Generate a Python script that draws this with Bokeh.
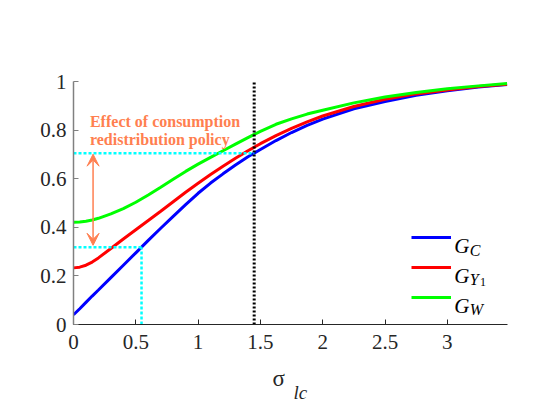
from bokeh.plotting import figure
from bokeh.models import (Range1d, FixedTicker, Label, Arrow, VeeHead, Legend, LegendItem, Title)
from bokeh.embed import file_html
from bokeh.resources import INLINE

# ---- data ----
sigma = [0, 0.05, 0.1, 0.15, 0.2, 0.3, 0.4, 0.5, 0.6, 0.7, 0.8, 0.9, 1.0, 1.1, 1.2, 1.3, 1.4, 1.5,
         1.625, 1.75, 1.875, 2.0, 2.25, 2.5, 2.75, 3.0, 3.25, 3.48]
g_c = [0.040, 0.065, 0.091, 0.117, 0.142, 0.193, 0.244, 0.295, 0.346, 0.396, 0.445, 0.493, 0.540, 0.582,
       0.620, 0.656, 0.690, 0.720, 0.757, 0.790, 0.819, 0.845, 0.888, 0.918, 0.943, 0.962, 0.977, 0.988]
g_y1 = [0.233, 0.236, 0.244, 0.257, 0.274, 0.313, 0.352, 0.390, 0.428, 0.466, 0.505, 0.544, 0.581, 0.617,
        0.651, 0.684, 0.715, 0.744, 0.777, 0.807, 0.834, 0.858, 0.897, 0.927, 0.949, 0.965, 0.979, 0.989]
g_w = [0.421, 0.422, 0.425, 0.430, 0.437, 0.455, 0.477, 0.503, 0.533, 0.565, 0.598, 0.630, 0.660, 0.688,
       0.715, 0.742, 0.769, 0.795, 0.824, 0.846, 0.866, 0.882, 0.912, 0.936, 0.955, 0.970, 0.982, 0.992]

policy_sigma = 1.45      # vertical black dotted line
gini_after = 0.705       # upper cyan line
base_sigma = 0.546       # lower cyan vertical
gini_before = 0.318      # lower cyan line
arrow_sigma = 0.157

x_ticks = [0, 0.5, 1, 1.5, 2, 2.5, 3]
x_tick_labels = ["0", "0.5", "1", "1.5", "2", "2.5", "3"]
y_ticks = [0, 0.2, 0.4, 0.6, 0.8, 1]
y_tick_labels = ["0", "0.2", "0.4", "0.6", "0.8", "1"]

SERIF = "Liberation Serif"
CORAL = "#FF7F50"

p = figure(width=552, height=412, x_range=Range1d(0, 3.483), y_range=Range1d(0, 1),
           output_backend="svg", toolbar_location=None,
           min_border_left=73, min_border_right=45, min_border_top=81, min_border_bottom=88)
p.outline_line_color = None
p.grid.visible = False

for ax, ticks, labels in ((p.xaxis, x_ticks, x_tick_labels), (p.yaxis, y_ticks, y_tick_labels)):
    ax.ticker = FixedTicker(ticks=ticks)
    ax.major_label_overrides = {float(t): l for t, l in zip(ticks, labels)}
    ax.minor_tick_line_color = None
    ax.major_tick_in = 5
    ax.major_tick_out = 0
    ax.major_label_text_font = SERIF
    ax.major_label_text_font_size = "21px"
    ax.major_label_text_color = "#262626"

p.xaxis.axis_line_color = "#262626"
p.xaxis.major_tick_line_color = "#262626"
p.xaxis.major_label_standoff = 10
# invisible spacer label to push the sigma_lc label down
p.xaxis.axis_label = "\u00a0"
p.xaxis.axis_label_text_font_size = "4px"
p.xaxis.axis_label_standoff = 4
p.yaxis.axis_line_color = "#808080"
p.yaxis.axis_line_width = 1.5
p.yaxis.major_tick_line_color = "#808080"
p.yaxis.major_label_standoff = 7

# curves
r_c = p.line(sigma, g_c, line_color="#0000FF", line_width=3)
r_y = p.line(sigma, g_y1, line_color="#FF0000", line_width=3)
r_w = p.line(sigma, g_w, line_color="#00FF00", line_width=3)

# reference lines
p.line([policy_sigma, policy_sigma], [0, 1], line_color="black", line_width=3, line_dash="2 2")
p.line([0, policy_sigma], [gini_after, gini_after], line_color="#00FFFF", line_width=2.5, line_dash="3 2")
p.line([0, base_sigma], [gini_before, gini_before], line_color="#00FFFF", line_width=2.5, line_dash="3 2")
p.line([base_sigma, base_sigma], [0, gini_before], line_color="#00FFFF", line_width=2.5, line_dash="3 2")

# double arrow
p.add_layout(Arrow(x_start=arrow_sigma, y_start=gini_before + 0.008, x_end=arrow_sigma, y_end=gini_after - 0.004,
                   line_color=CORAL, line_width=1.5,
                   start=VeeHead(size=12, line_color=CORAL, fill_color=CORAL, line_width=1),
                   end=VeeHead(size=12, line_color=CORAL, fill_color=CORAL, line_width=1)))

# annotation text
for txt, yy in (("Effect of consumption", 0.834), ("redistribution policy", 0.762)):
    p.add_layout(Label(x=0.132, y=yy, text=txt, text_font=SERIF, text_font_style="bold",
                       text_font_size="16px", text_color=CORAL, text_baseline="alphabetic"))

# legend keys
legend = Legend(items=[LegendItem(label=" ", renderers=[r_c]),
                       LegendItem(label=" ", renderers=[r_y]),
                       LegendItem(label=" ", renderers=[r_w])],
                location=(338, 17), orientation="vertical", glyph_width=40, glyph_height=20,
                label_height=20, label_width=1, label_text_font_size="2px", spacing=10,
                padding=0, margin=0, border_line_color=None, background_fill_alpha=0)
p.add_layout(legend)

# legend texts
leg_rows = [(0.321, "C"), (0.200, "Y"), (0.078, "W")]
for yy, sub in leg_rows:
    p.add_layout(Label(x=3.055, y=yy, text="G", text_font=SERIF, text_font_style="italic",
                       text_font_size="21px", text_color="black", text_baseline="alphabetic"))
    p.add_layout(Label(x=3.18, y=yy - 0.0145, text=sub, text_font=SERIF, text_font_style="italic",
                       text_font_size="16px", text_color="black", text_baseline="alphabetic"))
p.add_layout(Label(x=3.262, y=0.200 - 0.025, text="1", text_font=SERIF,
                   text_font_size="12px", text_color="black", text_baseline="alphabetic"))

# axis label  sigma_lc  (two stacked titles below the x axis)
p.add_layout(Title(text="σ", align="left", offset=199, standoff=0, vertical_align="bottom",
                   text_font=SERIF, text_font_size="23px", text_font_style="normal",
                   text_color="#262626"), "below")
p.add_layout(Title(text="lc", align="left", offset=220, standoff=-18, vertical_align="top",
                   text_font=SERIF, text_font_size="19px", text_font_style="italic",
                   text_color="#262626"), "below")

open("out.html", "w").write(file_html(p, INLINE))
